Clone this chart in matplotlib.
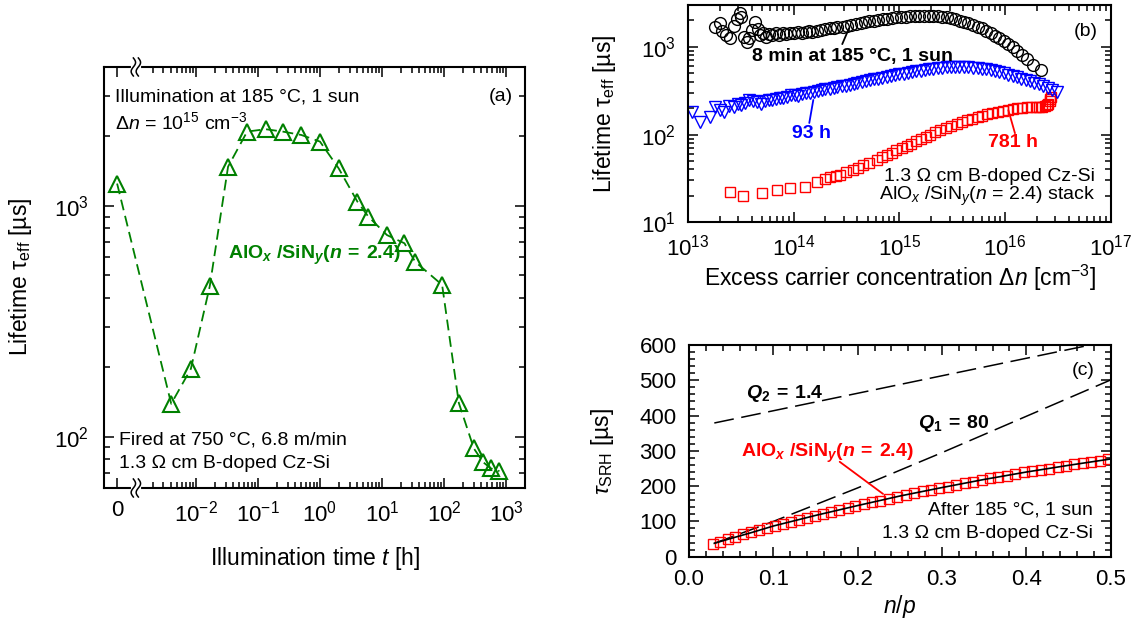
import numpy as np
import matplotlib.pyplot as plt
from matplotlib.lines import Line2D
from matplotlib.transforms import IdentityTransform
from matplotlib.ticker import FixedLocator, FixedFormatter, NullFormatter, LogLocator, MultipleLocator

plt.rcParams['font.family'] = ['Liberation Sans', 'DejaVu Sans']
plt.rcParams['mathtext.fontset'] = 'custom'
plt.rcParams['mathtext.rm'] = 'Liberation Sans'
plt.rcParams['mathtext.it'] = 'Liberation Sans:italic'
plt.rcParams['mathtext.bf'] = 'Liberation Sans:bold'
plt.rcParams['mathtext.bfit'] = 'Liberation Sans:italic:bold'

# ---- (a) lifetime vs illumination time ----
time_h = [0, 0.004, 0.0083, 0.0167, 0.033, 0.067, 0.133, 0.25, 0.5, 1, 2, 4, 6,
          12, 23, 34, 93, 173, 302, 427, 566, 781]
tau_time = [1250, 139, 197, 448, 1480, 2100, 2150, 2100, 2030, 1900, 1455, 1045, 900,
            748, 689, 574, 455, 140, 89, 77.6, 73, 71]

# ---- (b) injection dependent lifetime ----
dn_8min = [1.8e13, 2.0e13, 2.1e13, 2.3e13, 2.5e13, 2.7e13, 2.9e13, 3.1e13, 3.2e13, 3.4e13,
           3.6e13, 3.8e13, 4.0e13, 4.3e13, 4.6e13, 4.8e13, 5.1e13, 5.5e13, 5.9e13, 6.3e13,
           6.8e13, 7.3e13, 7.9e13, 8.5e13, 9.2e13, 1.0e14, 1.1e14, 1.2e14, 1.3e14, 1.4e14,
           1.5e14, 1.65e14, 1.8e14, 2.0e14, 2.2e14, 2.4e14, 2.6e14, 2.9e14, 3.2e14, 3.5e14,
           3.9e14, 4.3e14, 4.7e14, 5.2e14, 5.7e14, 6.3e14, 7.0e14, 7.7e14, 8.5e14, 9.4e14,
           1.04e15, 1.15e15, 1.27e15, 1.4e15, 1.55e15, 1.7e15, 1.9e15, 2.1e15, 2.3e15, 2.55e15,
           2.8e15, 3.1e15, 3.4e15, 3.75e15, 4.1e15, 4.5e15, 5.0e15, 5.5e15, 6.0e15, 6.6e15,
           7.3e15, 8.0e15, 8.8e15, 9.7e15, 1.07e16, 1.18e16, 1.3e16, 1.45e16, 1.62e16, 1.85e16,
           2.2e16]
tau_8min = [1700, 1850, 1500, 1350, 1250, 1750, 2100, 2450, 2200, 1300,
            1150, 1250, 1550, 1900, 1600, 1350, 1450, 1300, 1400, 1350,
            1450, 1380, 1420, 1400, 1450, 1430, 1460, 1440, 1480, 1500,
            1490, 1530, 1560, 1580, 1620, 1640, 1680, 1700, 1740, 1780,
            1830, 1870, 1910, 1950, 1990, 2030, 2070, 2100, 2130, 2160,
            2190, 2210, 2230, 2250, 2260, 2270, 2270, 2260, 2240, 2210,
            2170, 2120, 2060, 1990, 1920, 1850, 1780, 1700, 1620, 1520,
            1430, 1340, 1250, 1170, 1080, 990, 900, 810, 730, 620,
            540]

dn_93h = [1.08e13, 1.3e13, 1.6e13, 1.8e13, 2.0e13, 2.2e13, 2.45e13, 2.7e13, 3.0e13, 3.2e13,
          3.5e13, 3.8e13, 4.15e13, 4.5e13, 4.9e13, 5.3e13, 5.8e13, 6.3e13, 6.8e13, 7.4e13,
          8.0e13, 8.7e13, 9.4e13, 1.02e14, 1.1e14, 1.2e14, 1.3e14, 1.42e14, 1.55e14, 1.7e14,
          1.85e14, 2.0e14, 2.2e14, 2.4e14, 2.6e14, 2.85e14, 3.1e14, 3.4e14, 3.7e14, 4.0e14,
          4.4e14, 4.8e14, 5.3e14, 5.8e14, 6.3e14, 6.9e14, 7.6e14, 8.3e14, 9.1e14, 1.0e15,
          1.1e15, 1.2e15, 1.32e15, 1.45e15, 1.6e15, 1.75e15, 1.92e15, 2.1e15, 2.3e15, 2.55e15,
          2.8e15, 3.1e15, 3.4e15, 3.7e15, 4.1e15, 4.5e15, 5.0e15, 5.5e15, 6.0e15, 6.6e15,
          7.3e15, 8.0e15, 8.8e15, 9.7e15, 1.07e16, 1.18e16, 1.3e16, 1.43e16, 1.57e16, 1.73e16,
          1.9e16, 2.1e16, 2.3e16, 2.55e16, 2.8e16, 3.1e16]
tau_93h = [182, 140, 160, 205, 190, 180, 210, 205, 225, 215,
           230, 245, 240, 235, 225, 240, 250, 245, 255, 258,
           262, 270, 280, 285, 278, 290, 295, 300, 307, 315,
           320, 328, 335, 342, 350, 357, 362, 370, 378, 386,
           395, 403, 415, 425, 435, 445, 455, 465, 475, 485,
           495, 505, 515, 525, 535, 545, 552, 560, 567, 578,
           585, 590, 592, 592, 590, 585, 578, 570, 562, 552,
           540, 528, 515, 498, 480, 465, 450, 435, 420, 405,
           390, 375, 360, 340, 320, 305]

dn_781h = [2.5e13, 3.3e13, 5.0e13, 6.9e13, 9.2e13, 1.28e14, 1.65e14, 2.0e14, 2.2e14, 2.5e14,
           2.74e14, 3.1e14, 3.66e14, 4.1e14, 4.56e14, 5.2e14, 6.1e14, 6.8e14, 7.6e14, 8.5e14,
           9.4e14, 1.05e15, 1.17e15, 1.3e15, 1.45e15, 1.6e15, 1.78e15, 1.97e15, 2.2e15, 2.45e15,
           2.75e15, 3.1e15, 3.5e15, 3.9e15, 4.4e15, 4.9e15, 5.5e15, 6.1e15, 6.8e15, 7.6e15,
           8.5e15, 9.5e15, 1.06e16, 1.18e16, 1.3e16, 1.45e16, 1.6e16, 1.78e16, 1.95e16, 2.1e16,
           2.25e16, 2.4e16, 2.5e16, 2.58e16, 2.64e16, 2.68e16, 2.7e16]
tau_781h = [22.3, 19.8, 21.4, 23.3, 24.4, 25.4, 29, 31, 32.5, 33.5,
            34.6, 37, 39.4, 42, 45, 48, 51, 55, 58.5, 62,
            66.6, 70, 74, 79, 84, 89, 95, 100, 106, 112,
            118, 125, 132, 139, 145, 152, 158, 164, 170, 176,
            182, 187, 192, 196, 199, 202, 204, 205, 206, 207,
            208, 210, 215, 225, 240, 255, 270]

# ---- (c) SRH lifetime vs n/p ----
n_over_p = [0.028, 0.037, 0.046, 0.055, 0.064, 0.074, 0.083, 0.092, 0.102, 0.111,
            0.121, 0.130, 0.140, 0.149, 0.159, 0.168, 0.178, 0.188, 0.197, 0.207,
            0.217, 0.227, 0.237, 0.247, 0.257, 0.267, 0.277, 0.287, 0.297, 0.307,
            0.317, 0.327, 0.337, 0.347, 0.357, 0.367, 0.377, 0.387, 0.397, 0.407,
            0.417, 0.427, 0.437, 0.447, 0.457, 0.467, 0.477, 0.487, 0.497]
tau_srh = [36, 43, 50, 57, 63, 69, 75, 81, 88, 93,
           99, 105, 111, 116, 122, 127, 133, 138, 143, 149,
           154, 159, 164, 170, 175, 180, 185, 190, 195, 199,
           204, 208, 213, 218, 222, 226, 230, 235, 239, 243,
           247, 250, 254, 258, 262, 265, 269, 272, 276]
fit_x = [0.03, 0.05, 0.075, 0.1, 0.15, 0.2, 0.25, 0.3, 0.35, 0.4, 0.45, 0.5]
fit_y = [38, 52, 69, 87, 117, 145, 172, 196, 219, 240, 259, 277]
q1_x = [0.03, 0.1, 0.2, 0.3, 0.4, 0.5]
q1_y = [38, 100, 195, 295, 398, 501]
q2_x = [0.03, 0.5]
q2_y = [379, 612]

GREEN = '#008000'
FS_TICK = 16
FS_LAB = 16.5
FS_TXT = 14

# bold label with italic subscripts, used in (a) and (c)
STACK_BOLD = (r'$\mathbf{AlO}_{\mathbfit{x}}\mathbf{\ /SiN}_{\mathbfit{y}}'
              r'\mathbf{(}\mathbfit{n}\:\mathbf{=}\:\mathbf{2.4)}$')

fig = plt.figure(figsize=(11.43, 6.23), dpi=100)
ax_a = fig.add_axes([0.0910, 0.2167, 0.3683, 0.6758])
ax_b = fig.add_axes([0.6019, 0.6432, 0.3698, 0.3488])
ax_c = fig.add_axes([0.6028, 0.1064, 0.3689, 0.3398])


def style(ax):
    for s in ax.spines.values():
        s.set_linewidth(1.5)
    ax.tick_params(which='both', direction='in', top=True, right=True, width=1.1,
                   labelsize=FS_TICK)
    ax.tick_params(which='major', length=7.5)
    ax.tick_params(which='minor', length=4)
    ax.tick_params(axis='x', pad=9)
    ax.tick_params(axis='y', pad=9)


# broken log axis: t = 0 sits left of the break at 1e-3 h
U0 = -3.27
T_BREAK = 1e-3
LB = np.log10(T_BREAK)


def fwd(t):
    t = np.asarray(t, float)
    lg = np.log10(np.where(t > T_BREAK, t, T_BREAK))
    lin = U0 + t / T_BREAK * (LB - U0)
    return np.where(t > T_BREAK, lg, lin)


def inv(u):
    u = np.asarray(u, float)
    lin = (u - U0) / (LB - U0) * T_BREAK
    return np.where(u > LB, 10 ** np.clip(u, -20, 20), lin)


# ---------------- panel (a) ----------------
ax = ax_a
style(ax)
ax.set_xscale('function', functions=(fwd, inv))
ax.set_yscale('log')
ax.plot(time_h, tau_time, color=GREEN, lw=1.3, ls=(0, (6, 3.2)), marker='^', ms=11,
        mfc='none', mec=GREEN, mew=1.5)
ax.set_xlim(inv(-3.481), 10 ** 3.304)
ax.set_ylim(60, 4000)
major_t = [0, 1e-2, 1e-1, 1, 10, 100, 1000]
ax.xaxis.set_major_locator(FixedLocator(major_t))
ax.xaxis.set_major_formatter(FixedFormatter(['0', r'$10^{-2}$', r'$10^{-1}$', r'$10^{0}$',
                                             r'$10^{1}$', r'$10^{2}$', r'$10^{3}$']))
minor_t = [k * 10.0 ** e for e in range(-3, 3) for k in range(2, 10)]
ax.xaxis.set_minor_locator(FixedLocator(minor_t))
ax.xaxis.set_minor_formatter(NullFormatter())
ax.yaxis.set_major_locator(LogLocator(base=10, numticks=20))
ax.yaxis.set_minor_locator(LogLocator(base=10, subs=np.arange(2, 10), numticks=100))
ax.yaxis.set_minor_formatter(NullFormatter())
ax.tick_params(axis='y', pad=11)

ax.text(0.026, 0.929, 'Illumination at 185 °C, 1 sun', transform=ax.transAxes,
        fontsize=FS_TXT, va='center', ha='left')
ax.text(0.026, 0.868, r'$\Delta n$ = 10$^{15}$ cm$^{-3}$', transform=ax.transAxes,
        fontsize=FS_TXT, va='center', ha='left')
ax.text(0.972, 0.931, '(a)', transform=ax.transAxes, fontsize=FS_TXT, va='center', ha='right')
ax.text(0.2945, 0.553, STACK_BOLD, transform=ax.transAxes, fontsize=FS_TXT, color=GREEN,
        va='center', ha='left')
ax.text(0.0356, 0.114, 'Fired at 750 °C, 6.8 m/min', transform=ax.transAxes,
        fontsize=FS_TXT, va='center', ha='left')
ax.text(0.0356, 0.0586, '1.3 Ω cm B-doped Cz-Si', transform=ax.transAxes,
        fontsize=FS_TXT, va='center', ha='left')
fig.text(21 / 1143, 1 - 277 / 623, r'Lifetime τ$_{\rm eff}$ [µs]', rotation=90,
         fontsize=FS_LAB, ha='center', va='center')
fig.text(315 / 1143, 1 - 558 / 623, r'Illumination time $t$ [h]', fontsize=FS_LAB,
         ha='center', va='center')

# break marks on top and bottom spines
s = np.linspace(-1, 1, 40)
for yy in (0, 1):
    bx, by = ax.get_xaxis_transform().transform((T_BREAK, yy))
    fig.add_artist(Line2D([bx - 1, bx + 5], [by, by], color='white', lw=3,
                          transform=IdentityTransform(), zorder=5))
    for off in (0, 5):
        fig.add_artist(Line2D(bx + off + 2.2 * np.sin(np.pi * s) - 0.5, by + 9 * s,
                              color='black', lw=1.1, transform=IdentityTransform(), zorder=6))

# ---------------- panel (b) ----------------
ax = ax_b
style(ax)
ax.set_xscale('log')
ax.set_yscale('log')
ax.plot(dn_781h, tau_781h, ls='none', marker='s', ms=7, mfc='none', mec='#ff0000', mew=1)
ax.plot(dn_93h, tau_93h, ls='none', marker='v', ms=8, mfc='none', mec='#0000ff', mew=1)
ax.plot(dn_8min, tau_8min, ls='none', marker='o', ms=8.5, mfc='none', mec='black', mew=1)
ax.set_xlim(1e13, 1e17)
ax.set_ylim(10, 3000)
for axis in (ax.xaxis, ax.yaxis):
    axis.set_major_locator(LogLocator(base=10, numticks=20))
    axis.set_minor_locator(LogLocator(base=10, subs=np.arange(2, 10), numticks=100))
    axis.set_minor_formatter(NullFormatter())

ax.text(0.970, 0.877, '(b)', transform=ax.transAxes, fontsize=FS_TXT, va='center', ha='right')
ax.text(0.151, 0.761, '8 min at 185 °C, 1 sun', transform=ax.transAxes, fontsize=FS_TXT,
        fontweight='bold', va='center', ha='left')
ax.annotate('', xy=(0.381, 0.893), xytext=(0.365, 0.82), xycoords='axes fraction',
            arrowprops=dict(arrowstyle='-', color='black', lw=1.3, shrinkA=0, shrinkB=0))
ax.text(0.245, 0.41, '93 h', transform=ax.transAxes, fontsize=FS_TXT, fontweight='bold',
        color='#0000ff', va='center', ha='left')
ax.annotate('', xy=(0.2965, 0.563), xytext=(0.287, 0.457), xycoords='axes fraction',
            arrowprops=dict(arrowstyle='-', color='#0000ff', lw=1.3, shrinkA=0, shrinkB=0))
ax.text(0.7097, 0.365, '781 h', transform=ax.transAxes, fontsize=FS_TXT, fontweight='bold',
        color='#ff0000', va='center', ha='left')
ax.annotate('', xy=(0.758, 0.516), xytext=(0.7736, 0.41), xycoords='axes fraction',
            arrowprops=dict(arrowstyle='-', color='#ff0000', lw=1.3, shrinkA=0, shrinkB=0))
ax.text(0.963, 0.21, '1.3 Ω cm B-doped Cz-Si', transform=ax.transAxes, fontsize=FS_TXT,
        va='center', ha='right')
ax.text(0.962, 0.118, r'AlO$_x$ /SiN$_y$($n$ = 2.4) stack', transform=ax.transAxes,
        fontsize=FS_TXT, va='center', ha='right')
fig.text(605 / 1143, 1 - 114 / 623, r'Lifetime τ$_{\rm eff}$ [µs]', rotation=90,
         fontsize=FS_LAB, ha='center', va='center')
fig.text(900 / 1143, 1 - 278 / 623, r'Excess carrier concentration Δ$n$ [cm$^{-3}$]',
         fontsize=FS_LAB, ha='center', va='center')

# ---------------- panel (c) ----------------
ax = ax_c
style(ax)
ax.plot(q2_x, q2_y, color='black', lw=1.1, ls=(0, (13, 5)))
ax.plot(q1_x, q1_y, color='black', lw=1.1, ls=(0, (13, 5)))
ax.plot(n_over_p, tau_srh, ls='none', marker='s', ms=7.2, mfc='none', mec='#ff0000', mew=1)
ax.plot(fit_x, fit_y, color='black', lw=1.2)
ax.set_xlim(0, 0.5)
ax.set_ylim(0, 600)
ax.xaxis.set_major_locator(MultipleLocator(0.1))
ax.xaxis.set_minor_locator(MultipleLocator(0.02))
ax.yaxis.set_major_locator(MultipleLocator(100))
ax.yaxis.set_minor_locator(MultipleLocator(20))
ax.xaxis.set_major_formatter(plt.FuncFormatter(lambda v, p: f'{v:.1f}'))

ax.text(0.0676, 463, r'$\mathbfit{Q}_\mathbf{2}\:\mathbf{=}\:\mathbf{1.4}$', fontsize=FS_TXT,
        va='center', ha='left')
ax.text(0.2715, 378, r'$\mathbfit{Q}_\mathbf{1}\:\mathbf{=}\:\mathbf{80}$', fontsize=FS_TXT,
        va='center', ha='left')
ax.text(0.0617, 293, STACK_BOLD, fontsize=FS_TXT, color='#ff0000', va='center', ha='left')
ax.annotate('', xy=(0.2301, 178), xytext=(0.1787, 269),
            arrowprops=dict(arrowstyle='-', color='#ff0000', lw=1.3, shrinkA=0, shrinkB=0))
ax.text(0.481, 529, '(c)', fontsize=FS_TXT, va='center', ha='right')
ax.text(0.479, 132, 'After 185 °C, 1 sun', fontsize=FS_TXT, va='center', ha='right')
ax.text(0.479, 66, '1.3 Ω cm B-doped Cz-Si', fontsize=FS_TXT, va='center', ha='right')
fig.text(602 / 1143, 1 - 451 / 623, r'$\tau_{\rm SRH}$ [µs]', rotation=90,
         fontsize=FS_LAB, ha='center', va='center')
fig.text(900 / 1143, 1 - 606 / 623, r'$n/p$', fontsize=FS_LAB, ha='center', va='center')

fig.savefig('out.png', dpi=100)
